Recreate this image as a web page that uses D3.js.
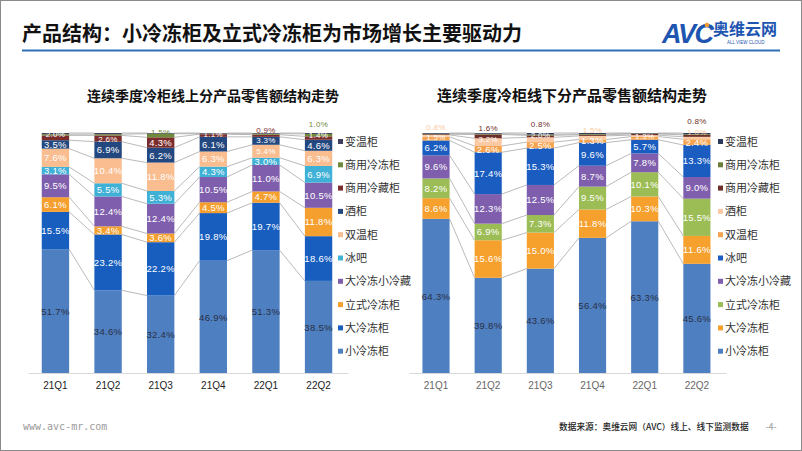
<!DOCTYPE html>
<html><head><meta charset="utf-8">
<script src="https://cdn.jsdelivr.net/npm/d3@7"></script>
<style>
html,body{margin:0;padding:0;background:#fff;}
svg{display:block;font-family:"Noto Sans CJK SC","Noto Sans",sans-serif;}
</style></head>
<body>
<svg id="c" width="802" height="451"></svg>
<script>
const categories = ["21Q1","21Q2","21Q3","21Q4","22Q1","22Q2"];
const seriesNames = ["小冷冻柜","大冷冻柜","立式冷冻柜","大冷冻小冷藏","冰吧","双温柜","酒柜","商用冷藏柜","商用冷冻柜","变温柜"];

// online (left) values, % by series (bottom to top)
const online_small   = [51.7, 34.6, 32.4, 46.9, 51.3, 38.5];
const online_large   = [15.5, 23.2, 22.2, 19.8, 19.7, 18.6];
const online_upright = [6.1, 3.4, 3.6, 4.5, 4.7, 11.8];
const online_combo   = [9.5, 12.4, 12.4, 10.5, 11.0, 10.5];
const online_bar     = [3.1, 5.5, 5.3, 4.3, 3.0, 6.9];
const online_dual    = [7.6, 10.4, 11.8, 6.3, 5.4, 6.3];
const online_wine    = [3.5, 6.9, 6.2, 6.1, 3.3, 4.6];
const online_comFr   = [2.0, 2.6, 4.3, 1.1, 0.9, 1.4];
const online_comFz   = [0.5, 0.5, 1.5, 0.2, 0.4, 1.0];
const online_var     = [0.5, 0.5, 0.3, 0.3, 0.3, 0.4];

// offline (right) values
const offline_small   = [64.3, 39.8, 43.6, 56.4, 63.3, 45.6];
const offline_large   = [8.6, 15.6, 15.0, 11.8, 10.3, 11.6];
const offline_upright = [8.2, 6.9, 7.3, 9.5, 10.1, 15.5];
const offline_combo   = [9.6, 12.3, 12.5, 8.7, 7.8, 9.0];
const offline_bar     = [6.2, 17.4, 15.3, 9.6, 5.7, 13.3];
const offline_dual    = [1.5, 2.6, 2.5, 1.3, 1.3, 2.4];
const offline_wine    = [0.8, 3.2, 2.0, 1.5, 0.6, 1.0];
const offline_comFr   = [0.3, 1.6, 0.8, 0.5, 0.5, 0.8];
const offline_comFz   = [0.2, 0.3, 0.4, 0.3, 0.2, 0.3];
const offline_var     = [0.3, 0.3, 0.6, 0.4, 0.2, 0.5];

const onlineColors  = ["#4e7fc1","#175ebf","#f59f2f","#7f5fad","#3fb0d6","#f9bd8f","#23487f","#7b2d2d","#6f8a3a","#40405e"];
const offlineColors = ["#4e7fc1","#f6a02d","#9cbd55","#7f5fad","#1a5cbf","#f5a34f","#fbc9a4","#6d2f2a","#6c7d3b","#2a3a5a"];

const onlineSeries  = [online_small,online_large,online_upright,online_combo,online_bar,online_dual,online_wine,online_comFr,online_comFz,online_var];
const offlineSeries = [offline_small,offline_large,offline_upright,offline_combo,offline_bar,offline_dual,offline_wine,offline_comFr,offline_comFz,offline_var];

const svg = d3.select("#c");

// frame
svg.append("rect").attr("x",0.5).attr("y",0.5).attr("width",801).attr("height",450)
  .attr("fill","#fff").attr("stroke","#8a8a8a").attr("stroke-width",1);

// title
svg.append("text").attr("x",22).attr("y",41).attr("font-size",20).attr("font-weight","bold")
  .attr("fill","#111").text("产品结构：小冷冻柜及立式冷冻柜为市场增长主要驱动力");
svg.append("line").attr("x1",22).attr("x2",780).attr("y1",50.5).attr("y2",50.5)
  .attr("stroke","#2e6fb7").attr("stroke-width",2);

// logo
const logo = svg.append("g");
logo.append("text").attr("x",662).attr("y",43).attr("font-size",27).attr("font-weight","bold")
  .attr("font-style","italic").attr("font-family","Liberation Sans, Arial, sans-serif")
  .attr("fill","#1d55b0").attr("letter-spacing",-1.5).text("AVC");
logo.append("circle").attr("cx",707).attr("cy",25).attr("r",2.3).attr("fill","#f39c33");
logo.append("text").attr("x",713).attr("y",35).attr("font-size",16).attr("font-weight","bold")
  .attr("fill","#1d55b0").text("奥维云网");
logo.append("text").attr("x",727).attr("y",43.5).attr("font-size",4.5).attr("font-family","Liberation Sans, Arial, sans-serif")
  .attr("fill","#1d55b0").text("ALL VIEW CLOUD");

function drawChart(opts){
  const {series, colors, range, title, titleX, titleSize, legendX, tickColor} = opts;
  const table = categories.map((c,i)=>{
    const row = {cat:c};
    seriesNames.forEach((s,k)=>row[s]=series[k][i]);
    return row;
  });
  const stack = d3.stack().keys(seriesNames).offset(d3.stackOffsetExpand);
  const layers = stack(table);
  const x = d3.scaleBand().domain(categories).range(range).paddingInner(0.48).paddingOuter(0.25);
  const y = d3.scaleLinear().domain([0,1]).range([373.5,133]);
  const bw = x.bandwidth();
  const g = svg.append("g");

  g.append("text").attr("x",titleX).attr("y",101).attr("text-anchor","middle")
    .attr("font-size",titleSize).attr("font-weight","bold").attr("fill","#111").text(title);

  // series lines
  layers.forEach((layer)=>{
    for(let i=0;i<layer.length-1;i++){
      g.append("line")
        .attr("x1",x(categories[i])+bw).attr("y1",y(layer[i][1]))
        .attr("x2",x(categories[i+1])).attr("y2",y(layer[i+1][1]))
        .attr("stroke","#a8a8a8").attr("stroke-width",0.8);
    }
  });

  // bars
  layers.forEach((layer,k)=>{
    g.selectAll(null).data(layer).enter().append("rect")
      .attr("x",d=>x(d.data.cat)).attr("width",bw)
      .attr("y",d=>y(d[1])).attr("height",d=>Math.max(0,y(d[0])-y(d[1])))
      .attr("fill",colors[k]);
  });

  // axis line
  g.append("line").attr("x1",range[0]).attr("x2",range[1]+3).attr("y1",373.5).attr("y2",373.5)
    .attr("stroke","#d9d9d9").attr("stroke-width",1);
  const ax = g.append("g").attr("transform","translate(0,373.5)")
    .call(d3.axisBottom(x).tickSize(0).tickPadding(8));
  ax.select(".domain").remove();
  ax.selectAll("text").attr("font-size",10).attr("fill",tickColor)
    .attr("font-family","Liberation Sans Narrow, Liberation Sans, Arial, sans-serif");

  // labels: small crowded labels at the top are nudged upward in a smaller size
  categories.forEach((c,i)=>{
    let lastY = Infinity;
    layers.forEach((layer,k)=>{
      const d = layer[i];
      const v = d.data[seriesNames[k]];
      if (v < 0.8) return;
      let cy = (y(d[0])+y(d[1]))/2;
      let fs = 9.5;
      if (lastY - cy < 11.5) {
        fs = 8;
        cy = lastY - 10.5;
        if (cy < 118) return;
      }
      lastY = cy;
      g.append("text")
        .attr("x",x(c)+bw/2).attr("y",cy+(fs===8?2.9:3.4))
        .attr("text-anchor","middle").attr("font-size",fs)
        .attr("font-family","Liberation Sans, Arial, sans-serif")
        .attr("fill",k===0?"#2a2f45":(cy<133?colors[k]:"#ffffff"))
        .attr("letter-spacing",0.3)
        .text(v.toFixed(1)+"%");
    });
  });

  // legend (top to bottom: reverse order)
  const leg = g.append("g");
  const rev = seriesNames.map((s,k)=>({s,k})).reverse();
  rev.forEach((o,j)=>{
    const yy = 141.5 + j*23.3;
    leg.append("rect").attr("x",legendX).attr("y",yy-2.5).attr("width",5).attr("height",5).attr("fill",colors[o.k]);
    leg.append("text").attr("x",legendX+7).attr("y",yy+4).attr("font-size",11).attr("fill","#333").text(o.s);
  });
}

drawChart({series:onlineSeries, colors:onlineColors, range:[28.6,345.4],
  title:"连续季度冷柜线上分产品零售额结构走势", titleX:213, titleSize:14, legendX:338, tickColor:"#222"});
drawChart({series:offlineSeries, colors:offlineColors, range:[409.4,723.5],
  title:"连续季度冷柜线下分产品零售额结构走势", titleX:572, titleSize:15, legendX:718, tickColor:"#666"});

// footer
svg.append("text").attr("x",23).attr("y",430).attr("font-size",10).attr("fill","#9a9a9a")
  .attr("font-family","DejaVu Sans Mono, monospace").text("www.avc-mr.com");
svg.append("text").attr("x",559).attr("y",430).attr("font-size",8.7).attr("font-weight",500).attr("fill","#222")
  .text("数据来源：奥维云网（AVC）线上、线下监测数据");
svg.append("text").attr("x",771).attr("y",430).attr("text-anchor","middle").attr("font-size",9).attr("fill","#9a9a9a")
  .text("-4-");
</script>
</body></html>
